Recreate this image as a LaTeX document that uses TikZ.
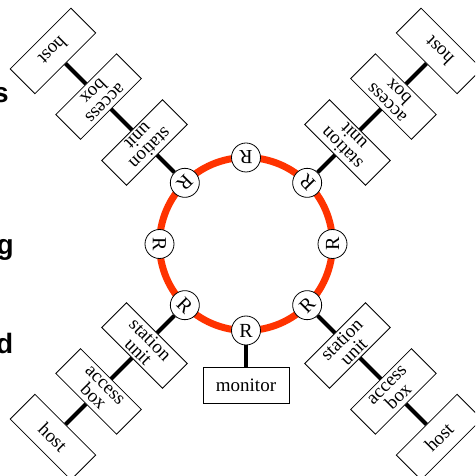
\documentclass[tikz,border=0pt]{standalone}
\usepackage{fontspec}
\setmainfont{Liberation Serif}
\newfontfamily\tmsfont{Liberation Serif}
\newfontfamily\edgefont{Liberation Sans}
\definecolor{ringred}{RGB}{255,51,0}
\begin{document}
\begin{tikzpicture}[x=1pt,y=1pt,
  rnode/.style={circle, draw, line width=0.8pt, fill=white, minimum size=29pt, inner sep=0pt, font=\tmsfont\fontsize{20}{20}\selectfont},
  unitbox/.style={rectangle, draw, line width=0.8pt, fill=white, minimum width=86pt, minimum height=35pt, inner sep=0pt, align=center, font=\tmsfont\fontsize{19}{17}\selectfont},
  link/.style={line width=4pt},
  edgetext/.style={anchor=base east, inner sep=0pt, font=\edgefont\bfseries\fontsize{28}{28}\selectfont}]
\useasboundingbox (-246,-232) rectangle (229,244);
\clip (-246,-232) rectangle (229,244);
\draw[ringred, line width=7pt] (0,0) circle (86.5);
\foreach \a in {0,45,...,315} {
  \node[rnode, rotate=\a+90] (r\a) at (\a:86.5) {R};
}
\foreach \a/\n/\d in {45/ne/0,135/nw/0,225/sw/0,315/se/1} {
  \node[unitbox, rotate=\a+90] (st\n) at (\a:143.5) {station\\unit};
  \node[unitbox, rotate=\a+90] (ac\n) at (\a:208.5) {access\\box};
  \node[unitbox, rotate=\a+90] (ho\n) at (\a:273) {host};
  \draw[link] (r\a) -- (st\n) (st\n) -- (ac\n) (ac\n) -- (ho\n);
}
\node[unitbox, minimum height=36pt] (mon) at (0,-141) {monitor};
\draw[link] (r270) -- (mon);
\node[edgetext] (e1) at (-237,141.5) {s};
\node[edgetext] (e2) at (-232,-11) {g};
\node[edgetext] (e3) at (-232.5,-109) {d};
\end{tikzpicture}
\end{document}
